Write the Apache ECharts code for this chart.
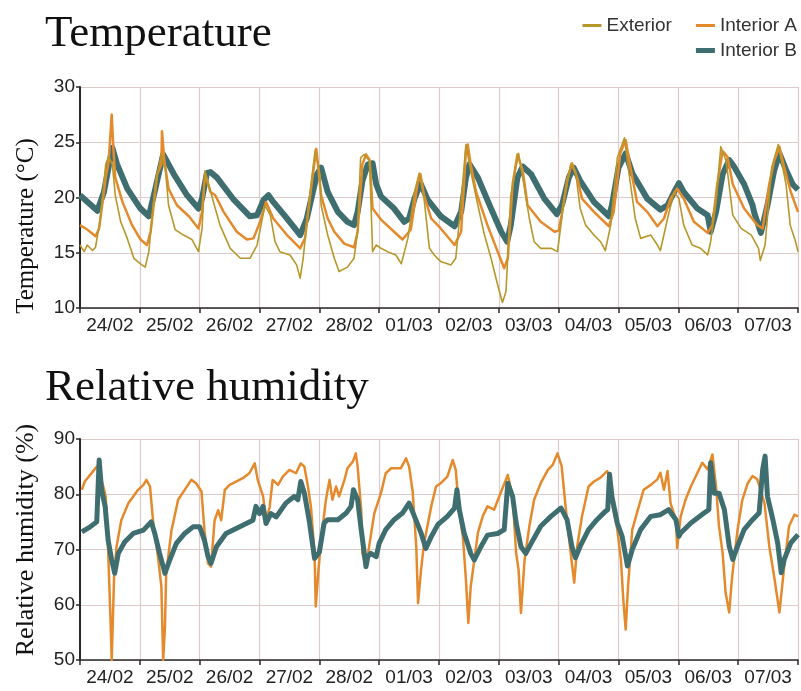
<!DOCTYPE html>
<html><head><meta charset="utf-8">
<script src="https://cdn.jsdelivr.net/npm/echarts@6/dist/echarts.min.js"></script>
<style>html,body{margin:0;padding:0;background:#fff}#c{width:801px;height:691px}</style>
</head><body><div id="c"></div>
<script>
// Day labels (category ticks)
const dayLabels = ['24/02','25/02','26/02','27/02','28/02','01/03','02/03','03/03','04/03','05/03','06/03','07/03'];
const seriesNames = ['Exterior','Interior A','Interior B'];

// Temperature [day offset, °C]
const tempExterior = [[0,15.7],[0.07,15.1],[0.12,15.7],[0.21,15.2],[0.26,15.5],[0.34,18.1],[0.43,23.0],[0.48,23.7],[0.54,23.0],[0.59,20.2],[0.68,17.8],[0.79,16.3],[0.9,14.5],[1.01,14.0],[1.09,13.7],[1.15,15.1],[1.26,21.2],[1.36,23.9],[1.43,22.4],[1.48,19.3],[1.59,17.1],[1.73,16.6],[1.87,16.2],[1.98,15.1],[2.04,17.2],[2.09,22.4],[2.15,21.2],[2.23,19.6],[2.34,17.5],[2.51,15.4],[2.68,14.5],[2.84,14.5],[2.96,15.7],[3.09,19.3],[3.18,18.4],[3.26,16.0],[3.34,15.1],[3.51,14.8],[3.62,13.9],[3.68,12.7],[3.73,14.5],[3.84,20.2],[3.93,24.3],[4.01,22.1],[4.03,19.3],[4.14,16.6],[4.25,14.5],[4.33,13.3],[4.47,13.7],[4.58,14.5],[4.64,16.9],[4.69,23.6],[4.75,23.9],[4.84,23.3],[4.89,15.1],[4.95,15.7],[5.03,15.4],[5.14,15.1],[5.28,14.8],[5.37,14.0],[5.48,16.3],[5.59,20.5],[5.67,22.2],[5.75,19.9],[5.84,15.4],[5.92,14.8],[6.03,14.2],[6.2,13.9],[6.28,14.5],[6.37,19.6],[6.45,24.8],[6.53,22.4],[6.65,19.3],[6.76,16.6],[6.87,14.5],[6.98,12.1],[7.06,10.5],[7.12,11.5],[7.2,20.2],[7.33,24.0],[7.4,21.8],[7.51,18.1],[7.59,16.0],[7.7,15.4],[7.87,15.4],[7.98,15.1],[8.08,19.3],[8.2,23.0],[8.28,22.4],[8.36,19.0],[8.45,17.5],[8.59,16.6],[8.7,16.0],[8.78,15.2],[8.87,17.5],[8.98,23.6],[9.1,25.4],[9.17,22.4],[9.28,18.1],[9.37,16.3],[9.54,16.6],[9.65,15.7],[9.7,15.2],[9.82,18.1],[9.93,20.5],[10.01,19.9],[10.09,17.5],[10.23,15.7],[10.37,15.4],[10.49,14.8],[10.54,16.0],[10.63,19.6],[10.71,24.6],[10.8,23.3],[10.91,18.4],[11.05,17.2],[11.22,16.6],[11.34,15.4],[11.37,14.3],[11.45,15.7],[11.56,22.7],[11.67,24.8],[11.8,21.2],[11.87,17.5],[11.96,16.0],[12.0,15.1]];
const tempInteriorA = [[0,17.5],[0.12,17.1],[0.26,16.5],[0.32,17.2],[0.43,21.8],[0.48,23.3],[0.53,27.5],[0.56,24.2],[0.59,21.8],[0.71,19.6],[0.87,17.5],[1.01,16.2],[1.12,15.7],[1.18,16.9],[1.29,22.1],[1.36,23.0],[1.37,26.0],[1.41,23.3],[1.48,20.8],[1.62,19.3],[1.82,18.3],[1.98,17.2],[2.04,18.7],[2.09,22.1],[2.18,20.5],[2.26,20.2],[2.4,18.7],[2.62,16.9],[2.79,16.2],[2.9,16.3],[3.01,17.8],[3.11,19.6],[3.23,18.1],[3.46,16.6],[3.68,15.4],[3.76,16.3],[3.87,21.2],[3.95,24.4],[4.03,20.2],[4.14,18.1],[4.25,16.9],[4.42,15.8],[4.58,15.5],[4.64,16.9],[4.72,23.0],[4.78,23.9],[4.84,23.4],[4.89,19.0],[5.03,18.0],[5.25,16.9],[5.39,16.2],[5.53,17.1],[5.64,21.2],[5.69,22.1],[5.75,20.2],[5.87,18.1],[6.03,17.2],[6.26,15.7],[6.37,16.9],[6.45,24.2],[6.48,24.8],[6.53,23.0],[6.62,20.5],[6.81,17.5],[6.98,15.1],[7.09,13.6],[7.15,14.5],[7.23,21.2],[7.31,23.9],[7.4,22.4],[7.48,19.3],[7.7,17.8],[7.93,16.9],[8.0,17.0],[8.06,18.7],[8.14,21.5],[8.22,23.1],[8.31,21.8],[8.39,19.9],[8.59,18.7],[8.84,17.4],[8.92,18.7],[9.03,24.0],[9.12,25.2],[9.2,22.7],[9.31,19.6],[9.48,18.7],[9.65,17.4],[9.76,18.1],[9.87,19.9],[9.98,20.8],[10.09,19.9],[10.26,17.8],[10.49,16.8],[10.57,17.5],[10.65,21.2],[10.74,24.2],[10.82,23.7],[10.91,21.2],[11.1,19.0],[11.32,17.5],[11.41,17.2],[11.52,21.2],[11.6,23.3],[11.69,24.6],[11.77,22.7],[11.88,20.5],[12.0,18.7]];
const tempInteriorB = [[0,20.2],[0.29,18.8],[0.4,20.5],[0.54,24.5],[0.62,23.0],[0.79,20.8],[1.01,19.0],[1.15,18.3],[1.26,20.8],[1.39,23.9],[1.57,22.1],[1.79,20.2],[1.98,19.0],[2.04,19.9],[2.12,22.2],[2.18,22.3],[2.29,21.8],[2.57,19.8],[2.84,18.3],[2.96,18.4],[3.07,19.8],[3.15,20.2],[3.23,19.6],[3.46,18.1],[3.68,16.6],[3.79,18.1],[3.96,22.1],[4.03,22.7],[4.14,20.5],[4.31,18.7],[4.47,17.8],[4.58,17.5],[4.64,18.7],[4.72,21.5],[4.81,23.0],[4.89,23.1],[4.95,21.2],[5.03,20.1],[5.25,19.0],[5.42,17.8],[5.5,18.1],[5.59,19.9],[5.69,21.3],[5.81,19.8],[6.03,18.3],[6.26,17.4],[6.37,18.7],[6.45,21.8],[6.51,23.0],[6.65,21.8],[6.87,19.0],[7.04,16.9],[7.14,16.0],[7.2,17.5],[7.31,21.8],[7.4,22.8],[7.54,22.1],[7.76,19.9],[7.97,18.5],[8.06,19.4],[8.17,21.8],[8.25,22.7],[8.36,21.5],[8.59,19.6],[8.84,18.3],[8.89,19.3],[9.0,22.7],[9.12,24.0],[9.23,22.2],[9.48,19.9],[9.7,18.9],[9.82,19.3],[9.93,20.5],[10.01,21.3],[10.09,20.5],[10.32,19.0],[10.49,18.4],[10.54,16.9],[10.63,18.7],[10.74,22.1],[10.85,23.4],[10.93,22.8],[11.1,21.2],[11.24,19.3],[11.27,18.6],[11.38,16.8],[11.49,19.3],[11.6,22.4],[11.69,24.0],[11.8,22.5],[11.91,21.2],[12.0,20.7]];

// Relative humidity [day offset, %]
const rhInteriorA = [[0.03,80.8],[0.08,82.3],[0.17,83.5],[0.28,85.0],[0.31,84.4],[0.39,81.4],[0.43,79.6],[0.47,69.9],[0.51,57.2],[0.53,50],[0.57,65.1],[0.61,70.5],[0.69,75.3],[0.81,78.4],[0.89,79.6],[0.97,80.8],[1.06,81.7],[1.11,82.6],[1.17,81.4],[1.22,75.3],[1.31,68.1],[1.36,63.3],[1.39,50],[1.42,56.0],[1.44,65.7],[1.53,73.5],[1.64,79.0],[1.75,80.8],[1.86,82.6],[1.94,82.0],[2.03,80.5],[2.08,73.5],[2.14,67.5],[2.19,66.9],[2.25,75.3],[2.31,77.1],[2.36,75.3],[2.42,80.8],[2.5,81.7],[2.61,82.3],[2.72,82.9],[2.83,83.8],[2.92,85.6],[2.97,82.6],[3.06,79.6],[3.11,75.3],[3.17,77.7],[3.22,82.6],[3.31,81.7],[3.39,83.2],[3.5,84.4],[3.61,83.8],[3.69,85.6],[3.75,85.0],[3.81,81.4],[3.86,77.7],[3.92,69.3],[3.94,59.7],[3.99,66.9],[4.03,71.7],[4.11,79.0],[4.17,82.6],[4.22,79.0],[4.28,81.4],[4.33,79.6],[4.42,82.6],[4.47,84.7],[4.56,85.9],[4.61,87.4],[4.64,85.0],[4.7,77.2],[4.72,69.3],[4.78,66.9],[4.84,71.1],[4.92,76.6],[5.03,80.2],[5.11,83.8],[5.2,84.7],[5.36,84.7],[5.45,86.5],[5.5,85.0],[5.56,80.5],[5.62,70.5],[5.65,60.3],[5.7,66.3],[5.75,71.1],[5.87,77.8],[5.95,81.4],[6.03,82.0],[6.14,83.2],[6.23,86.2],[6.28,84.4],[6.34,76.6],[6.4,72.3],[6.45,64.5],[6.49,56.7],[6.53,63.3],[6.59,68.1],[6.65,73.0],[6.73,76.0],[6.81,77.8],[6.92,77.2],[7.04,80.5],[7.15,83.5],[7.23,79.6],[7.29,69.3],[7.33,66.3],[7.37,58.5],[7.43,68.1],[7.51,74.2],[7.59,79.0],[7.7,82.0],[7.82,84.4],[7.9,85.3],[7.98,87.4],[8.05,85.1],[8.11,78.4],[8.17,72.4],[8.22,67.6],[8.26,64.0],[8.31,70.6],[8.39,76.0],[8.5,81.4],[8.59,82.3],[8.7,83.0],[8.81,84.2],[8.85,83.3],[8.89,78.4],[8.98,73.6],[9.04,68.2],[9.08,61.0],[9.12,55.5],[9.16,63.4],[9.23,73.6],[9.34,77.8],[9.42,80.8],[9.54,81.7],[9.65,82.7],[9.7,83.9],[9.76,80.8],[9.82,84.2],[9.87,78.4],[9.96,75.4],[9.98,70.3],[10.04,76.0],[10.12,79.0],[10.21,81.4],[10.32,83.9],[10.4,85.7],[10.49,84.5],[10.57,87.2],[10.63,81.4],[10.68,74.2],[10.74,69.4],[10.79,62.2],[10.85,58.6],[10.9,65.2],[10.99,73.6],[11.07,79.0],[11.16,82.0],[11.24,83.3],[11.32,82.7],[11.44,78.4],[11.52,70.6],[11.6,65.2],[11.69,58.6],[11.77,67.0],[11.85,74.2],[11.94,76.3],[12.0,76.0]];
const rhInteriorB = [[0.03,73.2],[0.17,74.1],[0.28,75.0],[0.32,86.2],[0.36,80.8],[0.42,77.8],[0.47,71.7],[0.53,68.1],[0.58,65.7],[0.64,69.3],[0.75,71.4],[0.89,72.9],[1.06,73.5],[1.19,75.0],[1.25,72.9],[1.33,69.3],[1.42,65.7],[1.5,68.1],[1.61,71.1],[1.75,72.9],[1.89,74.1],[2.0,74.1],[2.08,71.7],[2.14,68.7],[2.19,67.5],[2.28,70.5],[2.44,72.9],[2.67,74.1],[2.89,75.3],[2.94,77.8],[3.0,76.5],[3.06,77.8],[3.11,74.7],[3.19,76.5],[3.28,75.9],[3.44,78.4],[3.58,79.6],[3.64,79.0],[3.69,82.3],[3.75,80.2],[3.83,75.3],[3.92,68.4],[4.0,69.5],[4.08,74.8],[4.14,75.4],[4.31,75.4],[4.45,76.6],[4.53,77.8],[4.57,80.8],[4.64,79.0],[4.7,73.6],[4.78,66.9],[4.81,68.7],[4.86,69.3],[4.95,68.7],[5.0,71.1],[5.11,73.6],[5.25,75.4],[5.39,76.6],[5.5,78.4],[5.59,76.0],[5.7,73.0],[5.78,70.2],[5.87,72.3],[5.98,74.5],[6.14,76.0],[6.26,77.5],[6.3,80.8],[6.34,77.2],[6.42,73.0],[6.53,69.3],[6.59,68.1],[6.7,70.5],[6.81,72.6],[6.98,72.9],[7.09,73.6],[7.15,82.0],[7.23,79.6],[7.29,74.8],[7.37,70.5],[7.45,69.3],[7.57,71.7],[7.7,74.2],[7.87,76.0],[8.04,77.5],[8.14,75.4],[8.22,70.6],[8.28,68.5],[8.36,70.6],[8.5,73.6],[8.64,75.4],[8.78,76.9],[8.82,77.2],[8.85,83.6],[8.89,79.6],[8.98,74.8],[9.06,72.4],[9.15,67.0],[9.23,70.0],[9.37,73.6],[9.54,76.0],[9.7,76.3],[9.84,77.2],[9.96,75.4],[10.01,72.4],[10.04,73.0],[10.21,74.8],[10.43,76.6],[10.51,77.2],[10.54,85.7],[10.6,80.2],[10.68,80.2],[10.77,77.2],[10.85,70.6],[10.91,68.2],[10.99,70.6],[11.1,73.6],[11.24,75.4],[11.35,76.6],[11.41,84.5],[11.45,86.9],[11.49,79.6],[11.58,75.4],[11.66,71.2],[11.72,65.8],[11.77,68.2],[11.88,71.2],[12.0,72.7]];

const COL_EXT = '#b8972a', COL_A = '#e58a2c', COL_B = '#3f6e70';
const GRID_COL = '#ddcbcb', AXIS_COL = '#2a2a2a', LABEL_COL = '#222';
const SANS = 'Liberation Sans, Arial, sans-serif';
const SERIF = 'Liberation Serif, Times New Roman, serif';

function catAxis(gi) {
  return {
    type: 'category', gridIndex: gi, data: dayLabels, boundaryGap: true,
    axisLine: { show: true, lineStyle: { color: AXIS_COL, width: 1.5 } },
    axisTick: { show: true, length: 5, interval: 0, lineStyle: { color: AXIS_COL, width: 1.5 } },
    axisLabel: { interval: 0, color: LABEL_COL, fontSize: 19, fontFamily: SANS, margin: 8 },
    splitLine: { show: true, interval: 0, lineStyle: { color: GRID_COL, width: 1.2 } }
  };
}
function valXAxis(gi) {
  return { type: 'value', gridIndex: gi, min: 0, max: 12, show: false, splitLine: { show: false } };
}
function yAxis(gi, min, max, interval) {
  return {
    type: 'value', gridIndex: gi, min: min, max: max, interval: interval,
    axisLine: { show: true, lineStyle: { color: AXIS_COL, width: 2 } },
    axisTick: { show: true, length: 4, lineStyle: { color: AXIS_COL, width: 1.5 } },
    axisLabel: { color: LABEL_COL, fontSize: 19, fontFamily: SANS, margin: 5 },
    splitLine: { show: true, lineStyle: { color: GRID_COL, width: 1.2 } }
  };
}
function line(name, xi, yi, data, color, width, z) {
  return {
    name: name, type: 'line', xAxisIndex: xi, yAxisIndex: yi, data: data,
    showSymbol: false, symbol: 'none', z: z,
    lineStyle: { color: color, width: width, join: 'round' }, itemStyle: { color: color },
    emphasis: { disabled: true }
  };
}

const chart = echarts.init(document.getElementById('c'), null, { renderer: 'canvas' });
chart.setOption({
  animation: false,
  backgroundColor: '#ffffff',
  title: [
    { text: 'Temperature', left: 45, top: 12, padding: 0,
      textStyle: { fontFamily: SERIF, fontSize: 45, fontWeight: 'normal', color: '#111' } },
    { text: 'Relative humidity', left: 45, top: 366, padding: 0,
      textStyle: { fontFamily: SERIF, fontSize: 45, fontWeight: 'normal', color: '#111' } }
  ],
  legend: [
    { data: [seriesNames[0], seriesNames[1]], top: 16, right: 4, icon: 'rect', itemWidth: 19, itemHeight: 3,
      itemGap: 24, padding: 0, selectedMode: false,
      textStyle: { fontSize: 19, fontFamily: SANS, color: '#333' } },
    { data: [seriesNames[2]], top: 41, right: 4, icon: 'rect', itemWidth: 19, itemHeight: 5,
      padding: 0, selectedMode: false,
      textStyle: { fontSize: 19, fontFamily: SANS, color: '#333' } }
  ],
  grid: [
    { left: 80, top: 87, width: 718, height: 221 },
    { left: 80, top: 439, width: 718, height: 221 }
  ],
  xAxis: [catAxis(0), valXAxis(0), catAxis(1), valXAxis(1)],
  yAxis: [yAxis(0, 10, 30, 5), yAxis(1, 50, 90, 10)],
  graphic: [
    { type: 'text', x: 26, y: 226, rotation: Math.PI / 2,
      style: { text: 'Temperature (°C)', font: '25px ' + SERIF, fill: '#111', align: 'center', verticalAlign: 'middle' } },
    { type: 'text', x: 26, y: 540, rotation: Math.PI / 2,
      style: { text: 'Relative humidity (%)', font: '26px ' + SERIF, fill: '#111', align: 'center', verticalAlign: 'middle' } }
  ],
  series: [
    line(seriesNames[2], 1, 0, tempInteriorB, COL_B, 6, 2),
    line(seriesNames[1], 1, 0, tempInteriorA, COL_A, 2.5, 3),
    line(seriesNames[0], 1, 0, tempExterior, COL_EXT, 1.6, 4),
    line(seriesNames[1], 3, 1, rhInteriorA, COL_A, 2.5, 2),
    line(seriesNames[2], 3, 1, rhInteriorB, COL_B, 5, 3)
  ]
});
</script>
</body></html>
